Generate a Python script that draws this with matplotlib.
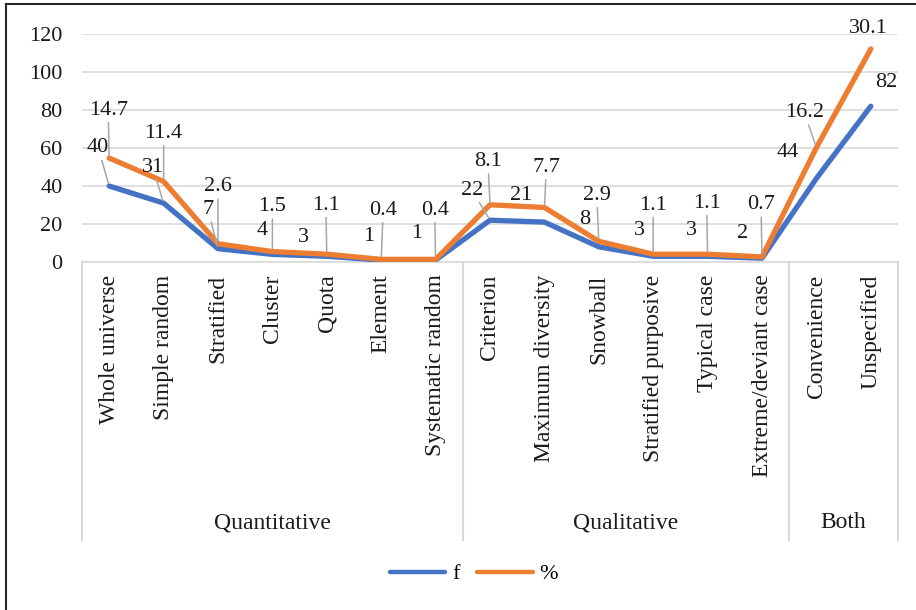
import matplotlib.pyplot as plt
from matplotlib.lines import Line2D
from matplotlib.transforms import blended_transform_factory

# Sampling designs and how often each was used
methods = ["Whole universe", "Simple random", "Stratified", "Cluster", "Quota",
           "Element", "Systematic random", "Criterion", "Maximum diversity",
           "Snowball", "Stratified purposive", "Typical case",
           "Extreme/deviant case", "Convenience", "Unspecified"]
groups = ["Quantitative", "Qualitative", "Both"]
group_sizes = [7, 6, 2]
f_vals = [40, 31, 7, 4, 3, 1, 1, 22, 21, 8, 3, 3, 2, 44, 82]
pct_vals = [14.7, 11.4, 2.6, 1.5, 1.1, 0.4, 0.4, 8.1, 7.7, 2.9, 1.1, 1.1, 0.7, 16.2, 30.1]

# label placement (pixels from the point) and whether a leader line is drawn
f_offsets = [(-11, 38), (-11, 36), (-10, 39), (-10, 24), (-23, 19), (-13, 24), (-19, 27),
             (-18, 30), (-23, 27), (-14, 27), (-14, 26), (-16, 26), (-19, 25), (-29, 26), (15, 24)]
f_leader = [True, True, True] + [False] * 4 + [True] + [False] * 7
pct_offsets = [(-1, 48), (0, 48), (0, 57), (0, 45), (-1, 49), (2, 49), (-1, 49),
               (-2, 43), (2, 40), (-2, 46), (0, 49), (-1, 51), (-1, 52), (-12, 35), (-2, 21)]
pct_leader = [True] * 14 + [False]

BLUE = "#4472C4"
ORANGE = "#ED7D31"
GRID = "#d9d9d9"
LEADER = "#a6a6a6"
TEXT = "#1a1a1a"
FS = 16
FS_CAT = 17

plt.rcParams["font.family"] = ["Liberation Serif", "DejaVu Serif"]

fig = plt.figure(figsize=(9.16, 6.10), dpi=100)
ax = fig.add_axes([82 / 916, 348 / 610, 816 / 916, 228 / 610])

x = list(range(len(methods)))
stacked = [a + b for a, b in zip(f_vals, pct_vals)]

ax.plot(x, f_vals, color=BLUE, lw=3.8, solid_capstyle="round", solid_joinstyle="round",
        label="f", zorder=3)
ax.plot(x, stacked, color=ORANGE, lw=3.8, solid_capstyle="round", solid_joinstyle="round",
        label="%", zorder=4)

ax.set_xlim(-0.5, len(methods) - 0.5)
ax.set_ylim(0, 120)
ax.set_yticks(range(0, 121, 20))
ax.yaxis.grid(True, color=GRID, lw=1.2)
ax.set_axisbelow(True)
for s in ax.spines.values():
    s.set_visible(False)
ax.tick_params(axis="y", length=0, pad=14, labelsize=FS, labelcolor=TEXT)
ax.set_xticks(x)
ax.set_xticklabels(methods, rotation=90, va="top", ha="center", fontsize=FS_CAT, color=TEXT)
ax.tick_params(axis="x", length=0, pad=9)

# data labels
def put_labels(vals, ys, offsets, leaders):
    for xi, (v, y, off, lead) in enumerate(zip(vals, ys, offsets, leaders)):
        props = dict(arrowstyle="-", color=LEADER, lw=1.1, shrinkA=0, shrinkB=2) if lead else None
        ax.annotate(f"{v:g}", (xi, y), xytext=off, textcoords="offset pixels",
                    ha="center", va="center", fontsize=FS, color=TEXT,
                    arrowprops=props, annotation_clip=False, zorder=5)

put_labels(f_vals, f_vals, f_offsets, f_leader)
put_labels(pct_vals, stacked, pct_offsets, pct_leader)

# multi-level category box below the axis
trans = blended_transform_factory(ax.transData, fig.transFigure)
y_top = 348 / 610
y_bot = 70 / 610
ax.plot([-0.5, len(methods) - 0.5], [y_top, y_top], transform=trans, color=GRID,
        lw=1.2, clip_on=False)
edge = -0.5
ax.plot([edge, edge], [y_top, y_bot], transform=trans, color=GRID, lw=1.5, clip_on=False)
for name, n in zip(groups, group_sizes):
    ax.text(edge + n / 2, 87 / 610, name, transform=trans, ha="center", va="center",
            fontsize=FS_CAT, color=TEXT)
    edge += n
    ax.plot([edge, edge], [y_top, y_bot], transform=trans, color=GRID, lw=1.5, clip_on=False)

handles = [Line2D([], [], color=BLUE, lw=3.2, solid_capstyle="round"),
           Line2D([], [], color=ORANGE, lw=3.2, solid_capstyle="round")]
fig.legend(handles, ["f", "%"], loc="center", bbox_to_anchor=(474 / 916, 36 / 610), ncol=2,
           frameon=False, fontsize=FS, handlelength=2.5, handletextpad=0.3,
           columnspacing=0.8)

# outer frame (top and left edges)
fig.add_artist(Line2D([6 / 916, 1], [606 / 610, 606 / 610], color="#262626", lw=1.5))
fig.add_artist(Line2D([6 / 916, 6 / 916], [0, 606 / 610], color="#262626", lw=1.5))

fig.savefig("out.png", dpi=100)
